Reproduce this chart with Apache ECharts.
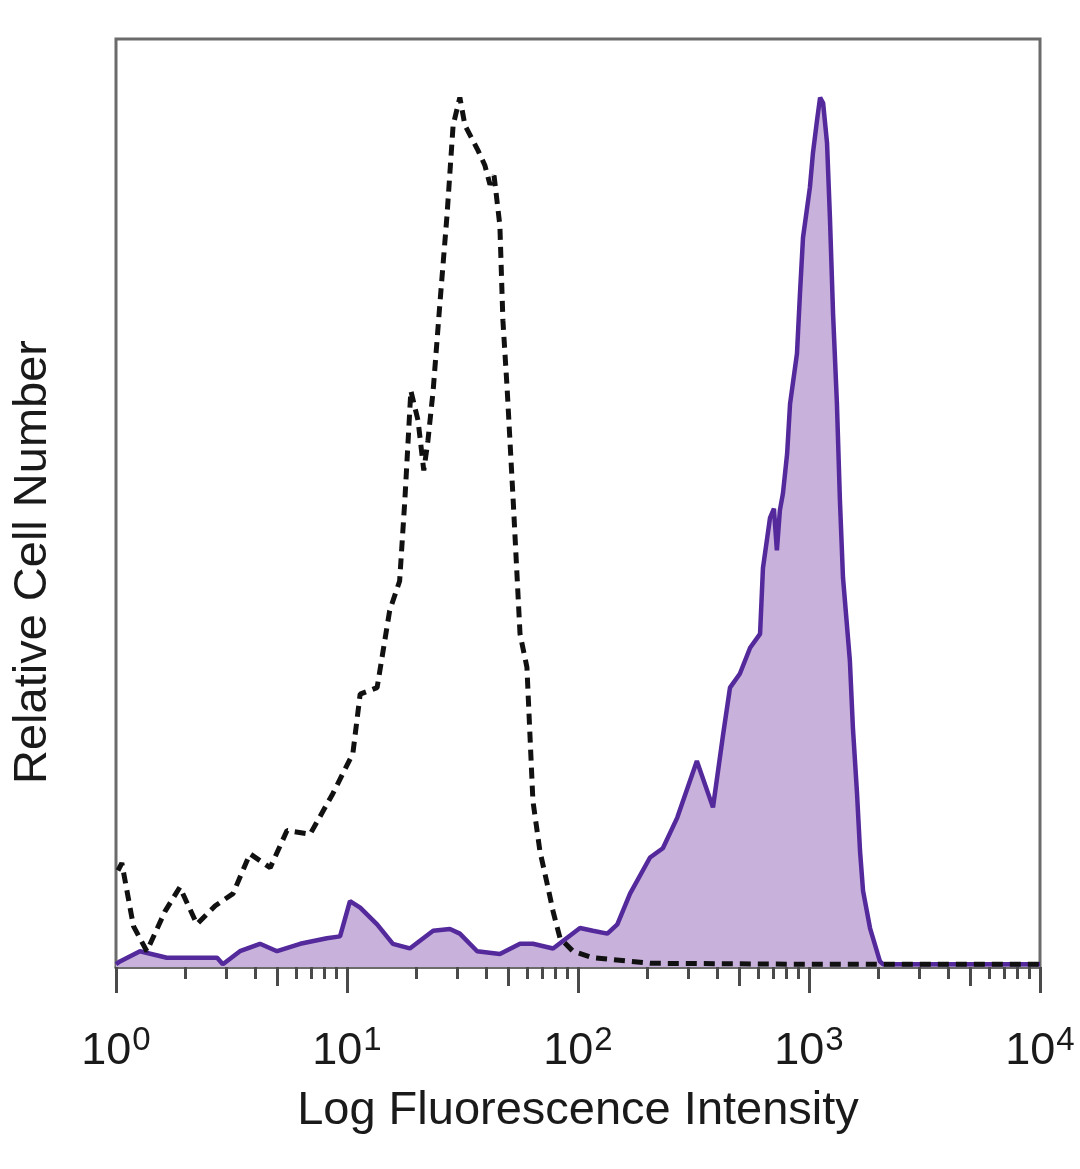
<!DOCTYPE html>
<html>
<head>
<meta charset="utf-8">
<script src="https://cdn.jsdelivr.net/npm/echarts@6/dist/echarts.min.js"></script>
<style>
html,body{margin:0;padding:0;background:#fff;}
#chart{width:1080px;height:1169px;}
</style>
</head>
<body>
<div id="chart"></div>
<script>
// Isotype control (dashed black)
const isotypeX = [1.02,1.06,1.19,1.36,1.63,1.89,2.24,2.69,3.21,3.80,4.65,5.50,6.92,8.69,10.6,11.4,13.5,15.3,16.9,17.8,18.9,20.3,21.5,22.4,23.6,25.3,27.1,28.8,30.8,32.4,36.9,39.5,41.6,43.3,45.9,47.3,49.3,52.4,56.1,60.1,63.8,68.4,73.5,78.0,83.6,95.1,116,205,914,10000];
const isotypeY = [10.4,11.2,4.4,1.7,6.0,8.6,4.6,6.6,7.9,12.2,10.7,14.7,14.3,18.7,23.0,29.4,30.1,38.4,41.6,50.3,62.1,58.9,53.5,56.7,62.1,71.8,81.0,90.7,93.7,90.7,88.0,86.4,84.3,85.3,79.9,69.7,62.5,50.3,35.9,32.3,17.9,12.5,9.0,6.0,3.1,1.7,1.0,0.4,0.3,0.3];
// Stained sample (filled purple)
const stainedX = [1.0,1.04,1.27,1.66,2.74,2.90,3.44,4.20,4.98,6.27,8.18,9.33,10.3,11.4,13.5,15.8,18.7,23.6,27.9,30.8,36.6,45.9,56.1,63.8,78.0,102,116,134,148,168,205,233,269,327,384,425,455,502,556,614,632,678,705,726,748,771,804,828,887,914,942,1009,1040,1084,1117,1151,1197,1233,1271,1321,1361,1403,1503,1549,1614,1663,1714,1837,2028,2089,10000];
const stainedY = [0.3,0.6,1.7,1.0,1.0,0.3,1.7,2.5,1.7,2.5,3.1,3.3,7.1,6.4,4.6,2.5,2.0,3.9,4.1,3.6,1.7,1.4,2.5,2.5,2.0,4.2,3.9,3.6,4.6,7.9,11.8,12.8,16.1,22.2,17.2,25.1,30.1,31.6,34.4,35.9,43.0,48.4,49.4,44.9,49.2,51.0,55.3,60.7,66.1,72.6,78.6,84.0,87.7,91.3,93.7,93.1,88.8,80.5,70.4,60.7,50.3,42.0,33.0,25.8,18.7,12.5,8.2,4.2,0.6,0.3,0.3];
// Axis ticks
const majorTicks = [1,10,100,1000,10000];
const minorTicks = [2,3,4,6,7,8,9,20,30,40,60,70,80,90,200,300,400,600,700,800,900,2000,3000,4000,6000,7000,8000,9000];
const midTicks = [5,50,500,5000];
const xTitle = 'Log Fluorescence Intensity';
const yTitle = 'Relative Cell Number';

const FONT = "'Liberation Sans',Arial,sans-serif";
const chart = echarts.init(document.getElementById('chart'), null, {renderer:'canvas'});

function tickAxis(values, len) {
  return {
    type:'log', logBase:10, min:1, max:10000, gridIndex:0, position:'bottom',
    axisLine:{show:false},
    axisLabel:{show:false},
    splitLine:{show:false},
    axisTick:{show:true, customValues: values, length: len, lineStyle:{color:'#4a4a4a', width:3}}
  };
}

chart.setOption({
  animation:false,
  backgroundColor:'#fff',
  grid:{left:116, right:40, top:39, bottom:202, containLabel:false, outerBoundsMode:'none',
        show:true, borderColor:'#6b6b6b', borderWidth:3, backgroundColor:'transparent'},
  xAxis:[
    {
      type:'log', logBase:10, min:1, max:10000, position:'bottom',
      name:xTitle, nameLocation:'middle', nameGap:121,
      nameTextStyle:{fontFamily:FONT, fontSize:47, color:'#1a1a1a'},
      axisLine:{show:true, lineStyle:{color:'#6b6b6b', width:3}},
      axisTick:{show:true, customValues: majorTicks, length:26, lineStyle:{color:'#4a4a4a', width:3}},
      splitLine:{show:false},
      axisLabel:{
        show:true, customValues: majorTicks, margin:57,
        formatter: function(v){ return '{b|10}{s|' + Math.round(Math.log10(v)) + '}'; },
        rich:{
          b:{fontFamily:FONT, fontSize:45, color:'#1a1a1a', verticalAlign:'bottom', lineHeight:50},
          s:{fontFamily:FONT, fontSize:33, color:'#1a1a1a', verticalAlign:'top', lineHeight:50, padding:[0,0,0,1]}
        }
      }
    },
    tickAxis(minorTicks, 12),
    tickAxis(midTicks, 19)
  ],
  yAxis:{
    type:'value', min:0, max:100,
    axisLine:{show:false}, axisTick:{show:false}, axisLabel:{show:false}, splitLine:{show:false}
  },
  graphic:[
    {
      type:'text', x:33, y:562, rotation:Math.PI/2,
      style:{text:yTitle, fontFamily:FONT, fontSize:47, fill:'#1a1a1a',
             textAlign:'center', textVerticalAlign:'middle', align:'center', verticalAlign:'middle'}
    }
  ],
  series:[
    {
      name:'Stained', type:'line', xAxisIndex:0, showSymbol:false, smooth:false,
      data: stainedX.map((x,i)=>[x, stainedY[i]]),
      lineStyle:{color:'#54299c', width:4.5},
      areaStyle:{color:'#c8b1da', opacity:1},
      z:2
    },
    {
      name:'Isotype', type:'line', xAxisIndex:0, showSymbol:false, smooth:false,
      data: isotypeX.map((x,i)=>[x, isotypeY[i]]),
      lineStyle:{color:'#111', width:5, type:[11,7]},
      z:3
    }
  ]
});
</script>
</body>
</html>
